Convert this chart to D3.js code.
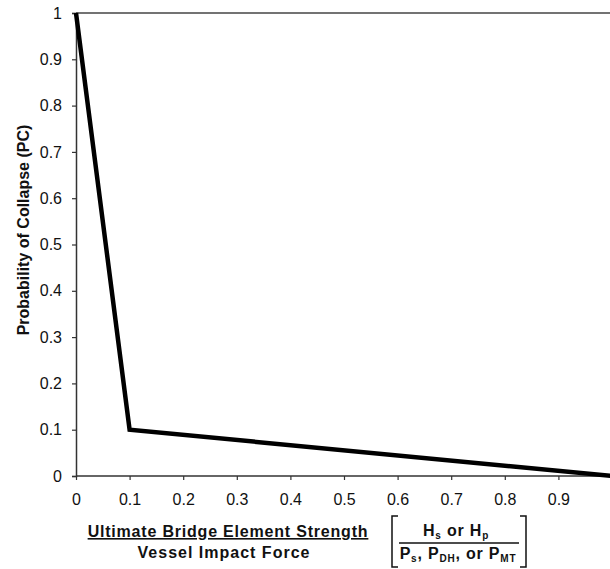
<!DOCTYPE html>
<html>
<head>
<meta charset="utf-8">
<script src="https://cdn.jsdelivr.net/npm/d3@7"></script>
<style>
body { margin: 0; background: #fff; }
text { font-family: "Liberation Sans", Arial, sans-serif; fill: #111; }
</style>
</head>
<body>
<div class="content"></div>
<script>
const w = 610;
const h = 569;

// curve points
const ratio = [0, 0.1, 1];
const pc = [1, 0.1, 0];
const xTicks = [0, 0.1, 0.2, 0.3, 0.4, 0.5, 0.6, 0.7, 0.8, 0.9];
const yTicks = [0, 0.1, 0.2, 0.3, 0.4, 0.5, 0.6, 0.7, 0.8, 0.9, 1];

const svg = d3.select('.content').append('svg')
	.attr('width', w)
	.attr('height', h);

const x = d3.scaleLinear().domain([0, 1]).range([76, 612]);
const y = d3.scaleLinear().domain([0, 1]).range([476, 13]);

// top border
svg.append('line')
	.attr('x1', x(0)).attr('x2', w)
	.attr('y1', y(1)).attr('y2', y(1))
	.attr('stroke', '#444')
	.attr('stroke-width', 1.3);

const xAxis = svg.append('g')
	.attr('transform', `translate(0,${y(0)})`)
	.call(d3.axisBottom(x).tickValues(xTicks).tickFormat(d => d === 0 ? '0' : d3.format('.1f')(d)).tickSize(4).tickPadding(14));

const yAxis = svg.append('g')
	.attr('transform', `translate(${x(0)},0)`)
	.call(d3.axisLeft(y).tickValues(yTicks).tickFormat(d => (d === 0 || d === 1) ? String(d) : d3.format('.1f')(d)).tickSize(4).tickPadding(10));

[xAxis, yAxis].forEach(a => {
	a.attr('font-size', null).attr('font-family', null);
	a.select('.domain').attr('stroke', '#333').attr('stroke-width', 1.5);
	a.selectAll('.tick line').attr('stroke', '#333').attr('stroke-width', 1.2);
	a.selectAll('.tick text')
		.style('font-family', '"Liberation Sans", Arial, sans-serif')
		.style('font-size', '16px')
		.attr('fill', '#111');
});
xAxis.select('.domain').attr('d', `M${x(0)},0H${w}`);

// curve
svg.append('path')
	.datum(ratio.map((r, i) => [r, pc[i]]))
	.attr('fill', 'none')
	.attr('stroke', '#000')
	.attr('stroke-width', 4.5)
	.attr('stroke-linejoin', 'miter')
	.attr('d', d3.line().x(d => x(d[0])).y(d => y(d[1])));

// y label
svg.append('text')
	.attr('transform', 'translate(29,230) rotate(-90)')
	.attr('text-anchor', 'middle')
	.style('font-size', '16px')
	.style('font-weight', 'bold')
	.text('Probability of Collapse (PC)');

// x label
svg.append('text')
	.attr('x', 228).attr('y', 537)
	.attr('text-anchor', 'middle')
	.style('font-size', '16px')
	.style('font-weight', 'bold')
	.style('letter-spacing', '0.8px')
	.style('text-decoration', 'underline')
	.text('Ultimate Bridge Element Strength');

svg.append('text')
	.attr('x', 224).attr('y', 558)
	.attr('text-anchor', 'middle')
	.style('font-size', '16px')
	.style('font-weight', 'bold')
	.style('letter-spacing', '1px')
	.text('Vessel Impact Force');

// bracket
const br = svg.append('g').attr('stroke', '#111').attr('stroke-width', 1.5).attr('fill', 'none');
br.append('path').attr('d', 'M398,516H392V567H398');
br.append('path').attr('d', 'M520,516H526V567H520');
br.append('line').attr('x1', 399).attr('x2', 519).attr('y1', 543).attr('y2', 543);

const num = svg.append('text')
	.attr('x', 456).attr('y', 536)
	.attr('text-anchor', 'middle')
	.style('font-size', '16px')
	.style('font-weight', 'bold')
	.style('letter-spacing', '0.8px');
num.append('tspan').text('H');
num.append('tspan').attr('dy', 3).style('font-size', '10px').text('s');
num.append('tspan').attr('dy', -3).text(' or H');
num.append('tspan').attr('dy', 3).style('font-size', '10px').text('p');

const den = svg.append('text')
	.attr('x', 458).attr('y', 559)
	.attr('text-anchor', 'middle')
	.style('font-size', '16px')
	.style('font-weight', 'bold')
	.style('letter-spacing', '0.8px');
den.append('tspan').text('P');
den.append('tspan').attr('dy', 3).style('font-size', '10px').text('s');
den.append('tspan').attr('dy', -3).text(', P');
den.append('tspan').attr('dy', 3).style('font-size', '10px').text('DH');
den.append('tspan').attr('dy', -3).text(', or P');
den.append('tspan').attr('dy', 3).style('font-size', '10px').text('MT');
</script>
</body>
</html>
